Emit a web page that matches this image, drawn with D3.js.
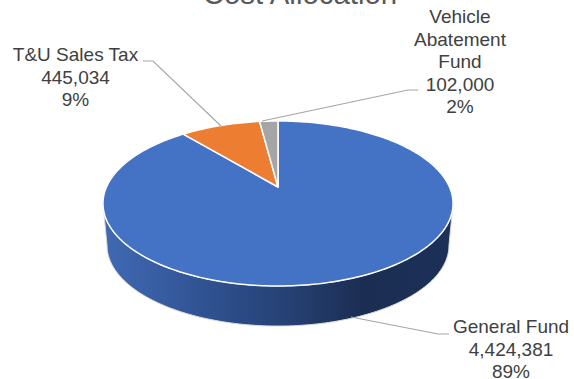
<!DOCTYPE html>
<html>
<head>
<meta charset="utf-8">
<script src="https://cdn.jsdelivr.net/npm/d3@7"></script>
<style>
  html, body { margin: 0; padding: 0; background: #fff; overflow: hidden; }
  svg { display: block; }
  text { font-family: "Liberation Sans", Arial, sans-serif; }
</style>
</head>
<body>
<svg id="chart" width="574" height="379"></svg>
<script>
const categories = ["General Fund", "T&U Sales Tax", "Vehicle Abatement Fund"];
const amounts = [4424381, 445034, 102000];
const percents = ["89%", "9%", "2%"];
const sliceColors = ["#4472c4", "#ed7d31", "#a5a5a5"];

const svg = d3.select("#chart");
const defs = svg.append("defs");

// Perspective projection of the unit disc onto the tilted pie
const cx = 278, tilt = 0.2;
const topFace = { y0: 187, rx: 171.5, ry: 79.2 };
const bottomFace = { y0: 229.3, rx: 167.5, ry: 77.4 };
const project = (a, face) => {
  const u = Math.sin(a), v = Math.cos(a), w = 1 + tilt * v;
  return [cx + face.rx * u / w, face.y0 - face.ry * v / w];
};
const arcPoints = (a0, a1, face) => {
  const n = Math.max(2, Math.ceil(Math.abs(a1 - a0) / 0.02));
  return d3.range(n + 1).map(i => project(a0 + (a1 - a0) * i / n, face));
};
const line = d3.line();

// Side wall shading
const grad = defs.append("linearGradient")
  .attr("id", "wall").attr("gradientUnits", "userSpaceOnUse")
  .attr("x1", 107).attr("x2", 449).attr("y1", 0).attr("y2", 0);
[[0, "#4069b3"], [0.3, "#2f5190"], [0.55, "#253f70"], [0.75, "#1b2d52"], [1, "#1c3058"]]
  .forEach(([o, c]) => grad.append("stop").attr("offset", o).attr("stop-color", c));

// Front wall spans the lower half of the rim between the widest points
const wallStart = Math.PI / 2 + Math.asin(tilt);
const wallEnd = 3 * Math.PI / 2 - Math.asin(tilt);
const wallPts = arcPoints(wallStart, wallEnd, topFace)
  .concat(arcPoints(wallEnd, wallStart, bottomFace));
svg.append("path")
  .attr("d", line(wallPts) + "Z")
  .attr("fill", "url(#wall)")
  .attr("stroke", "#d9d9d9").attr("stroke-width", 1);

// Top face slices
const pie = d3.pie().sort(null);
const slices = pie(amounts);
svg.selectAll("path.slice").data(slices).join("path")
  .attr("class", "slice")
  .attr("d", d => line([[cx, topFace.y0], ...arcPoints(d.startAngle, d.endAngle, topFace)]) + "Z")
  .attr("fill", (d, i) => sliceColors[i])
  .attr("stroke", "#fff").attr("stroke-width", 1.5).attr("stroke-linejoin", "round");

// Leader lines
const leaders = [
  [[351, 317], [438, 334], [449, 334]],
  [[221, 126], [153, 61], [143, 61]],
  [[262, 121], [408, 90], [418, 90]]
];
svg.selectAll("path.leader").data(leaders).join("path")
  .attr("class", "leader")
  .attr("d", d => line(d))
  .attr("fill", "none").attr("stroke", "#a5a5a5").attr("stroke-width", 1.1);

// Data labels
const labelLines = [
  [categories[0], d3.format(",")(amounts[0]), percents[0]],
  [categories[1], d3.format(",")(amounts[1]), percents[1]],
  ["Vehicle", "Abatement", "Fund", d3.format(",")(amounts[2]), percents[2]]
];
const labelPos = [[511, 333], [75.5, 61], [460, 23]];
labelLines.forEach((rows, i) => {
  const t = svg.append("text").attr("text-anchor", "middle")
    .attr("font-size", 19).attr("fill", "#404040");
  rows.forEach((r, j) => t.append("tspan")
    .attr("x", labelPos[i][0]).attr("y", labelPos[i][1] + j * 22.5).text(r));
});

// Title, running off the top edge
svg.append("text").attr("x", 300).attr("y", 4)
  .attr("text-anchor", "middle").attr("font-size", 29.4)
  .attr("fill", "#595959").text("Cost Allocation");
</script>
</body>
</html>
